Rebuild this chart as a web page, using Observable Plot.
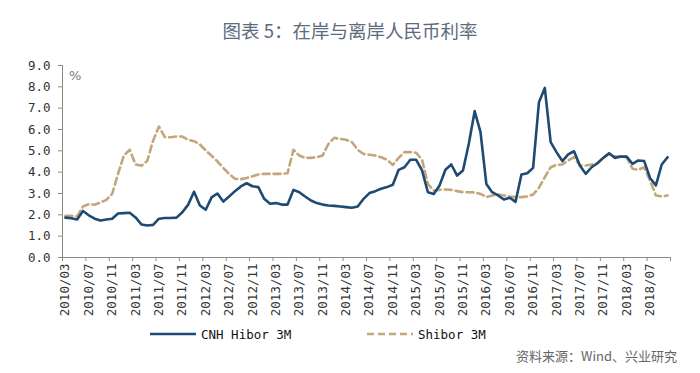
<!DOCTYPE html>
<html><head><meta charset="utf-8">
<script src="https://cdn.jsdelivr.net/npm/d3@7"></script>
<script src="https://cdn.jsdelivr.net/npm/@observablehq/plot@0.6"></script>
<style>
body{margin:0;background:#fff;}
#wrap{position:relative;width:700px;height:373px;overflow:hidden;background:#fff;}
#title{position:absolute;top:18px;left:0;width:700px;text-align:center;font-family:"Noto Sans CJK SC";font-size:18.5px;line-height:24px;color:#5d6b7d;}
#chart{position:absolute;top:58px;left:0;}
#pct{position:absolute;left:69px;top:68px;font-family:"DejaVu Sans";font-size:13px;color:#7a7a7a;}
.leg{position:absolute;top:325px;height:18px;display:flex;align-items:center;font-family:"DejaVu Sans Mono",monospace;font-size:12.5px;color:#111;background:transparent;}
#caption{position:absolute;top:346px;right:23px;font-family:"Noto Sans CJK SC";font-size:13px;color:#666;}
</style></head>
<body>
<div id="wrap">
  <div id="title">图表 5：在岸与离岸人民币利率</div>
  <div id="chart"></div>
  <div id="pct">%</div>
  <div class="leg" id="leg1" style="left:150px"></div>
  <div class="leg" id="leg2" style="left:367px"></div>
  <div id="caption">资料来源：Wind、兴业研究</div>
</div>
<script>
// monthly, 2010/03 .. 2018/10
const tickLabels = ["2010/03","2010/07","2010/11","2011/03","2011/07","2011/11","2012/03","2012/07","2012/11","2013/03","2013/07","2013/11","2014/03","2014/07","2014/11","2015/03","2015/07","2015/11","2016/03","2016/07","2016/11","2017/03","2017/07","2017/11","2018/03","2018/07"];
const seriesNames = ["CNH Hibor 3M","Shibor 3M"];
const cnhHibor = [1.87,1.84,1.78,2.18,1.98,1.82,1.73,1.78,1.82,2.06,2.08,2.10,1.88,1.55,1.50,1.53,1.82,1.85,1.85,1.87,2.12,2.48,3.08,2.44,2.24,2.82,3.00,2.62,2.86,3.11,3.33,3.48,3.34,3.30,2.75,2.52,2.55,2.48,2.48,3.17,3.06,2.86,2.67,2.55,2.48,2.44,2.42,2.39,2.36,2.33,2.39,2.75,3.02,3.11,3.22,3.30,3.41,4.11,4.23,4.58,4.58,4.08,3.06,2.98,3.38,4.11,4.36,3.84,4.08,5.33,6.86,5.88,3.45,3.06,2.91,2.72,2.80,2.61,3.89,3.95,4.20,7.28,7.95,5.41,4.94,4.52,4.83,4.98,4.31,3.92,4.23,4.42,4.67,4.89,4.67,4.73,4.73,4.39,4.55,4.52,3.73,3.38,4.36,4.70];
const shibor = [1.95,1.95,1.93,2.39,2.50,2.47,2.58,2.70,2.98,3.92,4.78,5.05,4.36,4.30,4.53,5.48,6.14,5.64,5.64,5.67,5.67,5.52,5.45,5.30,5.02,4.77,4.50,4.20,3.92,3.69,3.67,3.73,3.81,3.89,3.92,3.92,3.92,3.92,3.95,5.05,4.78,4.67,4.67,4.70,4.78,5.33,5.61,5.56,5.52,5.41,5.05,4.85,4.82,4.78,4.70,4.58,4.34,4.67,4.94,4.94,4.91,4.58,3.45,3.14,3.17,3.19,3.17,3.11,3.06,3.06,3.05,2.98,2.83,2.91,2.95,2.91,2.86,2.83,2.83,2.86,2.95,3.27,3.77,4.23,4.34,4.36,4.55,4.70,4.31,4.31,4.36,4.42,4.67,4.86,4.73,4.73,4.70,4.16,4.11,4.23,3.61,2.91,2.86,2.91];
const yTicks = [0,1,2,3,4,5,6,7,8,9];

const blue = "#1f4a73", tan = "#c4a67b", axisGray = "#8a8a8a";
const n = cnhHibor.length;
const labelIdx = tickLabels.map((_, i) => i * 4);
const boundaries = d3.range(0, n + 1, 4).map(i => i - 0.5);

const plot = Plot.plot({
  width: 700, height: 266,
  marginLeft: 62, marginRight: 30, marginTop: 7, marginBottom: 67,
  x: {domain: [-0.5, n - 0.5]},
  y: {domain: [yTicks[0], yTicks[yTicks.length - 1]]},
  style: {fontFamily: "'DejaVu Sans Mono', monospace", fontSize: "12.5px", color: "#333", background: "transparent", overflow: "visible"},
  marks: [
    Plot.axisY({ticks: yTicks, tickFormat: d3.format(".1f"), tickSize: 4, tickPadding: 8, stroke: axisGray, label: null}),
    Plot.axisX({ticks: boundaries, tickFormat: () => "", tickSize: 4, stroke: axisGray, label: null}),
    Plot.axisX({ticks: labelIdx, tickFormat: i => tickLabels[i / 4], tickRotate: -90, tickSize: 0, tickPadding: 6, label: null}),
    Plot.ruleY([yTicks[0]], {stroke: axisGray}),
    Plot.ruleX([boundaries[0]], {stroke: axisGray}),
    Plot.line(shibor, {x: (d, i) => i, y: d => d, stroke: tan, strokeWidth: 2.6, strokeDasharray: "7,4"}),
    Plot.line(cnhHibor, {x: (d, i) => i, y: d => d, stroke: blue, strokeWidth: 2.6})
  ]
});
document.getElementById("chart").appendChild(plot);

function swatch(el, color, dash, name) {
  el.innerHTML = `<svg width="46" height="6" style="margin-right:5px"><line x1="0" y1="3" x2="46" y2="3" stroke="${color}" stroke-width="2.6" ${dash ? 'stroke-dasharray="7,4"' : ''}/></svg><span>${name}</span>`;
}
swatch(document.getElementById("leg1"), blue, false, seriesNames[0]);
swatch(document.getElementById("leg2"), tan, true, seriesNames[1]);
</script>
</body></html>
